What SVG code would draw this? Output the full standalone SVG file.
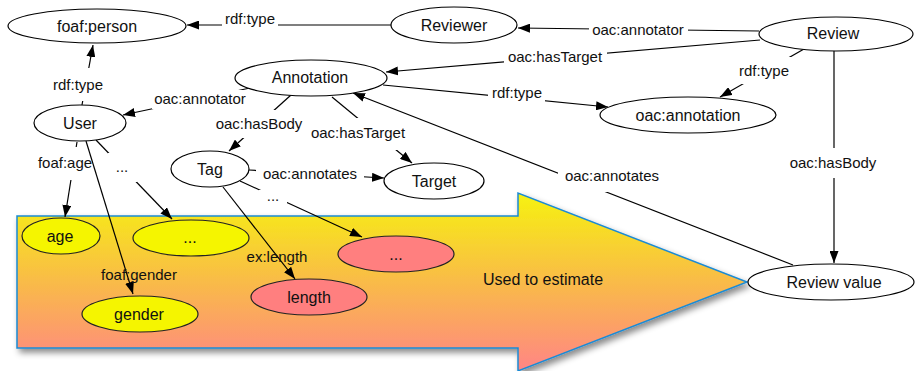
<svg xmlns="http://www.w3.org/2000/svg" width="915" height="371" viewBox="0 0 915 371">
  <style>
    .node { fill: #ffffff; stroke: #000000; stroke-width: 1.2; }
    .attr { fill: #f5f500; stroke: #222222; stroke-width: 1.2; }
    .feat { fill: #ff7f7f; stroke: #222222; stroke-width: 1.2; }
    .ntext { font-family: "Liberation Sans", Arial, sans-serif; font-size: 16px; fill: #111111; text-anchor: middle; }
    .ltext { font-family: "Liberation Sans", Arial, sans-serif; font-size: 15px; fill: #111111; text-anchor: middle; }
    .edge { stroke: #000000; stroke-width: 1.2; fill: none; marker-end: url(#ah); }
    .lbg { fill: #ffffff; }
  </style>
  <defs>
    <marker id="ah" viewBox="0 0 12 9" refX="12" refY="4.5" markerWidth="12" markerHeight="9" markerUnits="userSpaceOnUse" orient="auto">
      <path d="M0,0 L12,4.5 L0,9 z" fill="#000000"/>
    </marker>
    <linearGradient id="flow" gradientUnits="userSpaceOnUse" x1="0" y1="193" x2="0" y2="371">
      <stop offset="0" stop-color="#f6f20f"/>
      <stop offset="0.5" stop-color="#f9bb48"/>
      <stop offset="1" stop-color="#ff8585"/>
    </linearGradient>
    <filter id="shadow" x="-5%" y="-5%" width="115%" height="120%">
      <feDropShadow dx="3" dy="4" stdDeviation="3" flood-color="#000000" flood-opacity="0.45"/>
    </filter>
  </defs>

  <!-- big block arrow in the background -->
  <g id="estimate-arrow">
    <polygon points="17,216 518,216 518,193 747,282 518,371 518,348 17,348" fill="url(#flow)" stroke="#1a8ad4" stroke-width="1.5" filter="url(#shadow)"/>
    <text class="ntext" x="543" y="285">Used to estimate</text>
  </g>

  <!-- connectors -->
  <g id="connectors">
    <g>
      <line class="edge" x1="391" y1="25" x2="187" y2="25"/>
      <rect class="lbg" x="222" y="10" width="56" height="20"/>
      <text class="ltext" x="250" y="24">rdf:type</text>
    </g>
    <g>
      <line class="edge" x1="759" y1="31" x2="518" y2="28"/>
      <rect class="lbg" x="589" y="20" width="99" height="20"/>
      <text class="ltext" x="638" y="35">oac:annotator</text>
    </g>
    <g>
      <line class="edge" x1="760" y1="40" x2="386" y2="72"/>
      <rect class="lbg" x="504" y="47" width="103" height="20"/>
      <text class="ltext" x="555" y="62">oac:hasTarget</text>
    </g>
    <g>
      <line class="edge" x1="804" y1="49" x2="720" y2="97"/>
      <rect class="lbg" x="737" y="57" width="56" height="27"/>
      <text class="ltext" x="764" y="76">rdf:type</text>
    </g>
    <g>
      <line class="edge" x1="834" y1="51" x2="834" y2="263"/>
      <rect class="lbg" x="787" y="148" width="93" height="30"/>
      <text class="ltext" x="833" y="168">oac:hasBody</text>
    </g>
    <g>
      <line class="edge" x1="793" y1="265" x2="353" y2="93"/>
      <rect class="lbg" x="558" y="164" width="102" height="28"/>
      <text class="ltext" x="612" y="181">oac:annotates</text>
    </g>
    <g>
      <line class="edge" x1="383" y1="85" x2="608" y2="107"/>
      <rect class="lbg" x="488" y="84" width="57" height="18"/>
      <text class="ltext" x="517" y="98">rdf:type</text>
    </g>
    <g>
      <line class="edge" x1="250" y1="88" x2="123" y2="115"/>
      <rect class="lbg" x="152" y="90" width="97" height="19"/>
      <text class="ltext" x="200" y="104">oac:annotator</text>
    </g>
    <g>
      <line class="edge" x1="291" y1="95" x2="229" y2="151"/>
      <rect class="lbg" x="213" y="110" width="93" height="28"/>
      <text class="ltext" x="259" y="129">oac:hasBody</text>
    </g>
    <g>
      <line class="edge" x1="332" y1="97" x2="412" y2="163"/>
      <rect class="lbg" x="308" y="118" width="102" height="32"/>
      <text class="ltext" x="358" y="138">oac:hasTarget</text>
    </g>
    <g>
      <line class="edge" x1="82" y1="105" x2="93" y2="45"/>
      <rect class="lbg" x="51" y="68" width="56" height="33"/>
      <text class="ltext" x="78" y="90">rdf:type</text>
    </g>
    <g>
      <line class="edge" x1="249" y1="170" x2="384" y2="178"/>
      <rect class="lbg" x="256" y="164" width="108" height="20"/>
      <text class="ltext" x="310" y="179">oac:annotates</text>
    </g>
    <g>
      <line class="edge" x1="77" y1="142" x2="65" y2="217"/>
      <rect class="lbg" x="35" y="147" width="60" height="33"/>
      <text class="ltext" x="65" y="168">foaf:age</text>
    </g>
    <g>
      <line class="edge" x1="86" y1="141" x2="133" y2="294"/>
      <text class="ltext" x="139" y="280">foaf:gender</text>
    </g>
    <g>
      <line class="edge" x1="96" y1="140" x2="172" y2="219"/>
      <rect class="lbg" x="108" y="153" width="29" height="29"/>
      <text class="ltext" x="122" y="172">...</text>
    </g>
    <g>
      <line class="edge" x1="223" y1="187" x2="295" y2="279"/>
      <text class="ltext" x="277" y="262">ex:length</text>
    </g>
    <g>
      <line class="edge" x1="240" y1="181" x2="362" y2="237"/>
      <rect class="lbg" x="259" y="190" width="28" height="22"/>
      <text class="ltext" x="273" y="201">...</text>
    </g>
  </g>

  <!-- resource nodes -->
  <g id="foaf-person">
    <ellipse class="node" cx="97" cy="26" rx="89" ry="17"/>
    <text class="ntext" x="97" y="32">foaf:person</text>
  </g>
  <g id="reviewer">
    <ellipse class="node" cx="454" cy="25" rx="63" ry="18"/>
    <text class="ntext" x="454" y="31">Reviewer</text>
  </g>
  <g id="review">
    <ellipse class="node" cx="836" cy="34" rx="77" ry="17"/>
    <text class="ntext" x="833" y="39">Review</text>
  </g>
  <g id="annotation">
    <ellipse class="node" cx="311" cy="78" rx="76" ry="18"/>
    <text class="ntext" x="310" y="83">Annotation</text>
  </g>
  <g id="oac-annotation">
    <ellipse class="node" cx="688" cy="115" rx="88" ry="18"/>
    <text class="ntext" x="688" y="121">oac:annotation</text>
  </g>
  <g id="user">
    <ellipse class="node" cx="80" cy="123" rx="46" ry="18"/>
    <text class="ntext" x="80" y="129">User</text>
  </g>
  <g id="tag">
    <ellipse class="node" cx="210" cy="169" rx="39" ry="18"/>
    <text class="ntext" x="210" y="175">Tag</text>
  </g>
  <g id="target">
    <ellipse class="node" cx="434" cy="181" rx="50" ry="18"/>
    <text class="ntext" x="434" y="187">Target</text>
  </g>
  <g id="review-value">
    <ellipse class="node" cx="831" cy="282" rx="83" ry="18"/>
    <text class="ntext" x="834" y="288">Review value</text>
  </g>

  <!-- user attribute nodes -->
  <g id="age">
    <ellipse class="attr" cx="61" cy="236" rx="39" ry="18"/>
    <text class="ntext" x="60" y="242">age</text>
  </g>
  <g id="user-more">
    <ellipse class="attr" cx="191" cy="238" rx="58" ry="18"/>
    <text class="ntext" x="190" y="243">...</text>
  </g>
  <g id="gender">
    <ellipse class="attr" cx="140" cy="314" rx="58" ry="18"/>
    <text class="ntext" x="139" y="320">gender</text>
  </g>

  <!-- tag feature nodes -->
  <g id="length">
    <ellipse class="feat" cx="309" cy="297" rx="58" ry="18"/>
    <text class="ntext" x="309" y="303">length</text>
  </g>
  <g id="tag-more">
    <ellipse class="feat" cx="396" cy="254" rx="58" ry="18"/>
    <text class="ntext" x="396" y="260">...</text>
  </g>
</svg>
